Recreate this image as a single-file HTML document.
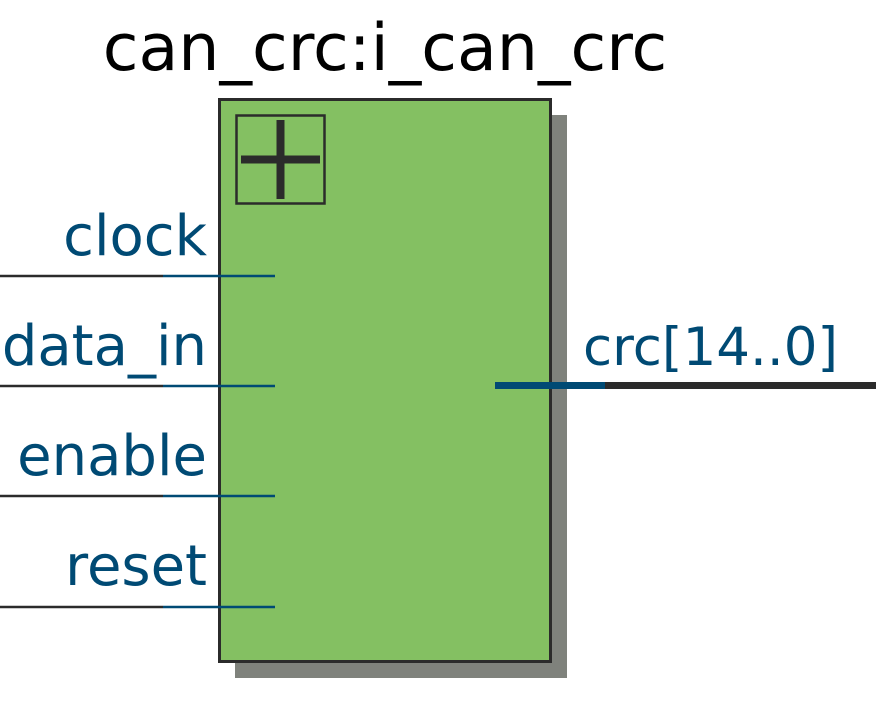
<!DOCTYPE html>
<html><head><meta charset="utf-8"><style>
html,body{margin:0;padding:0;background:#fff;width:876px;height:704px;overflow:hidden}
svg text{font-family:"DejaVu Sans","Liberation Sans",sans-serif}
</style></head><body>
<svg width="876" height="704" viewBox="0 0 876 704">
<text x="385" y="70" font-size="65" text-anchor="middle" fill="#000">can_crc:i_can_crc</text>
<rect x="235" y="115" width="332" height="563" fill="#7f827c"/>
<rect x="219.5" y="99.5" width="331" height="562" fill="#84c062" stroke="#2b2b2b" stroke-width="3"/>
<rect x="236.5" y="115.5" width="88" height="88" fill="none" stroke="#2b2b2b" stroke-width="2.5"/>
<line x1="241" y1="159.5" x2="320" y2="159.5" stroke="#2b2b2b" stroke-width="8"/>
<line x1="280.5" y1="120" x2="280.5" y2="199" stroke="#2b2b2b" stroke-width="8"/>
<g>
<line x1="0" y1="276" x2="163" y2="276" stroke="#2b2b2b" stroke-width="2.5"/>
<line x1="163" y1="276" x2="275" y2="276" stroke="#004a74" stroke-width="2.5"/>
<text x="207" y="255" font-size="56" text-anchor="end" fill="#004a74">clock</text></g>
<g>
<line x1="0" y1="386" x2="163" y2="386" stroke="#2b2b2b" stroke-width="2.5"/>
<line x1="163" y1="386" x2="275" y2="386" stroke="#004a74" stroke-width="2.5"/>
<text x="207" y="365" font-size="56" text-anchor="end" fill="#004a74">data_in</text></g>
<g>
<line x1="0" y1="496" x2="163" y2="496" stroke="#2b2b2b" stroke-width="2.5"/>
<line x1="163" y1="496" x2="275" y2="496" stroke="#004a74" stroke-width="2.5"/>
<text x="207" y="475" font-size="56" text-anchor="end" fill="#004a74">enable</text></g>
<g>
<line x1="0" y1="607" x2="163" y2="607" stroke="#2b2b2b" stroke-width="2.5"/>
<line x1="163" y1="607" x2="275" y2="607" stroke="#004a74" stroke-width="2.5"/>
<text x="207" y="585" font-size="56" text-anchor="end" fill="#004a74">reset</text></g>
<g>
<line x1="495" y1="385.5" x2="605" y2="385.5" stroke="#004a74" stroke-width="7"/>
<line x1="605" y1="385.5" x2="876" y2="385.5" stroke="#2b2b2b" stroke-width="7"/>
<text x="583" y="365" font-size="53" fill="#004a74">crc[14..0]</text></g>
</svg>
</body></html>
